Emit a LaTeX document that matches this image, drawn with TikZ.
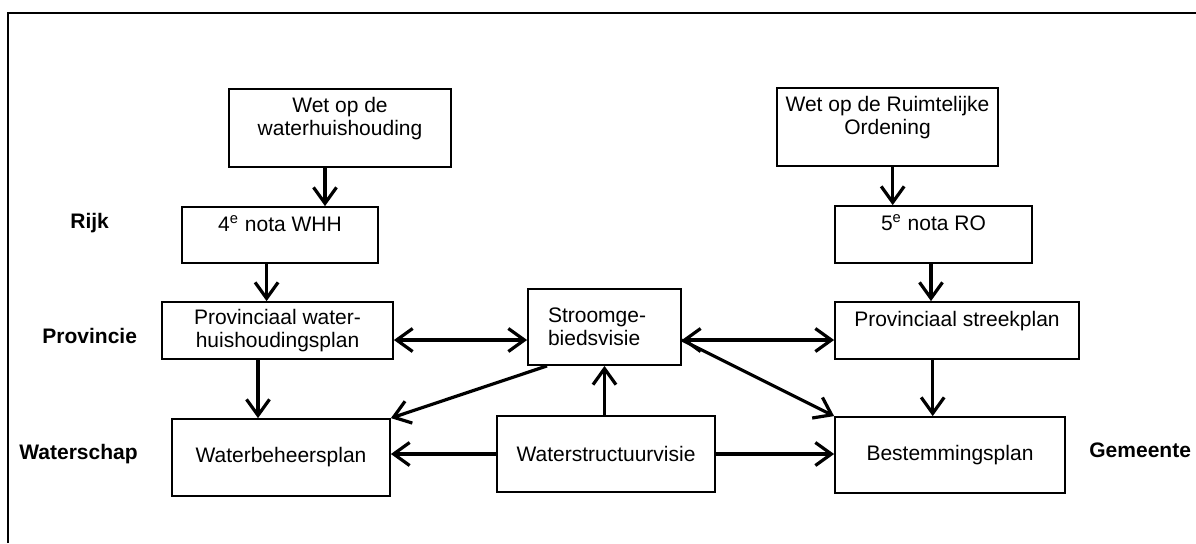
\documentclass[tikz,border=0pt]{standalone}
\usepackage{fontspec}
\setmainfont{Liberation Sans}
\usetikzlibrary{arrows.meta}

\begin{document}
\begin{tikzpicture}
[
    x=0.5pt, y=-0.5pt,
    every node/.style={font=\fontsize{10.5}{11.5}\selectfont},
    doc/.style={draw, line width=0.9pt, inner sep=2pt, align=center},
    tier/.style={font=\fontsize{10.5}{11.5}\selectfont\bfseries, anchor=base west, inner sep=0pt},
    flow/.style={line width=1.6pt, >={Straight Barb[length=8pt,width=11.5pt]}},
]
\useasboundingbox (0,0) rectangle (1196,543);
\draw [line width=1pt] (8,543) -- (8,13) -- (1196,13);

\node [doc, minimum width=111pt, minimum height=39pt] (wetwhh) at (340,128)
    {Wet op de\\waterhuishouding\\ \mbox{}};
\node [doc, minimum width=98pt, minimum height=28pt] (nota4) at (280,235)
    {4\textsuperscript{e} nota WHH\\ \mbox{}};
\node [doc, minimum width=115.5pt, minimum height=28.5pt] (provwhp) at (277.5,330.5)
    {Provinciaal water-\\huishoudingsplan};
\node [doc, minimum width=109pt, minimum height=38.5pt] (wbp) at (281,457.5)
    {Waterbeheersplan};
\node [doc, minimum height=38pt, text width=56.5pt, inner xsep=10pt, align=left] (stroom) at (604.5,327)
    {Stroomge-\\biedsvisie};
\node [doc, minimum width=109pt, minimum height=38pt] (wsv) at (606,454)
    {Waterstructuurvisie};
\node [doc, minimum width=110.5pt, minimum height=39pt] (wetro) at (887.5,127)
    {Wet op de Ruimtelijke\\Ordening\\ \mbox{}};
\node [doc, minimum width=98.5pt, minimum height=28.5pt] (nota5) at (933.5,234.5)
    {5\textsuperscript{e} nota RO\\ \mbox{}};
\node [doc, minimum width=122pt, minimum height=28.5pt] (provsp) at (957,330.5)
    {Provinciaal streekplan\\ \mbox{}};
\node [doc, minimum width=115pt, minimum height=38pt] (bp) at (950,455)
    {Bestemmingsplan};

\node [tier] (rijk) at (70,228) {Rijk};
\node [tier] (provincie) at (42,343) {Provincie};
\node [tier] (waterschap) at (19,459) {Waterschap};
\node [tier] (gemeente) at (1089,457) {Gemeente};

\draw [flow, ->] ([xshift=-7.5pt]wetwhh.south) -- ([xshift=-7.5pt]wetwhh.south |- nota4.north);
\draw [flow, ->] ([xshift=-6.7pt]nota4.south) -- ([xshift=-6.7pt]nota4.south |- provwhp.north);
\draw [flow, ->] ([xshift=-9.75pt]provwhp.south) -- ([xshift=-9.75pt]provwhp.south |- wbp.north);
\draw [flow, <->] ([yshift=-4.75pt]provwhp.east) -- ([yshift=-4.75pt]provwhp.east -| stroom.west);
\draw [flow, ->] ([xshift=-28.75pt]stroom.south) -- (wbp.north east);
\draw [flow, ->] (wsv.north -| stroom.south) -- (stroom.south);
\draw [flow, ->] (wsv.west) -- (wsv.west -| wbp.east);
\draw [flow, ->] (wsv.east) -- (wsv.east -| bp.west);
\draw [flow, <->] ([yshift=-4.75pt]provsp.west -| stroom.east) -- ([yshift=-4.75pt]provsp.west);
\draw [flow, ->] ([yshift=-4.75pt]provsp.west -| stroom.east) -- (bp.north west);
\draw [flow, ->] ([xshift=2.6pt]wetro.south) -- ([xshift=2.6pt]wetro.south |- nota5.north);
\draw [flow, ->] ([xshift=-1.25pt]nota5.south) -- ([xshift=-1.25pt]nota5.south |- provsp.north);
\draw [flow, ->] ([xshift=-12.15pt]provsp.south) -- ([xshift=-12.15pt]provsp.south |- bp.north);
\end{tikzpicture}
\end{document}
